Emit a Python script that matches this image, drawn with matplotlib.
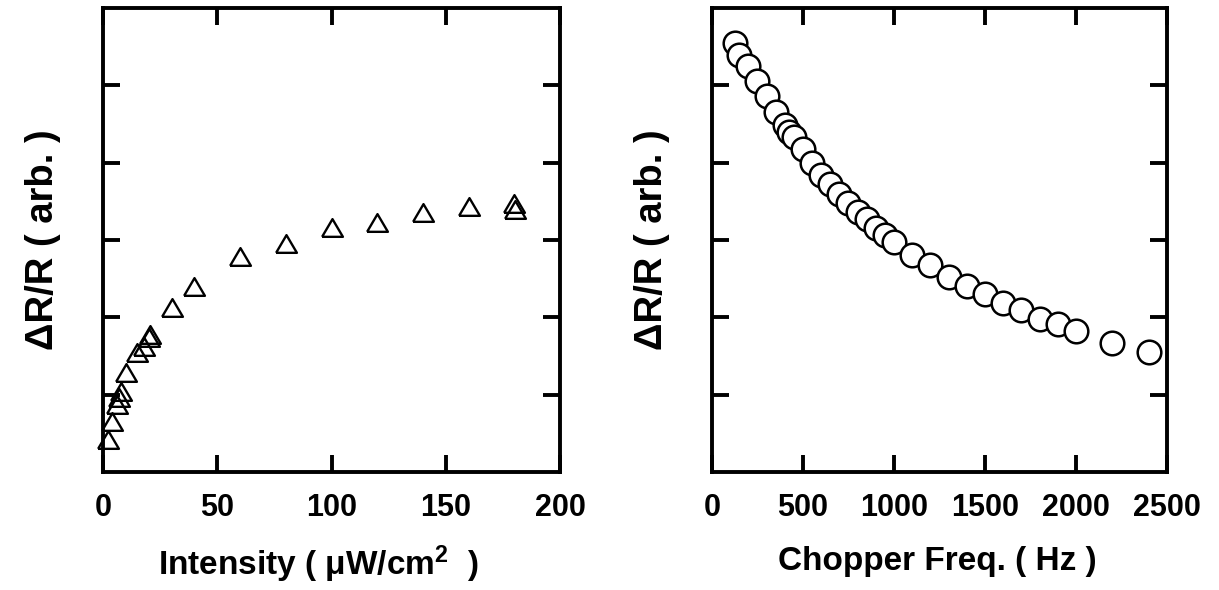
import matplotlib.pyplot as plt

plt.rcParams['font.family'] = ['Liberation Sans', 'DejaVu Sans']
plt.rcParams['font.weight'] = 'bold'
plt.rcParams['axes.labelweight'] = 'bold'
plt.rcParams['mathtext.fontset'] = 'custom'
plt.rcParams['mathtext.rm'] = 'Liberation Sans:bold'
plt.rcParams['mathtext.it'] = 'Liberation Sans:bold'
plt.rcParams['mathtext.default'] = 'rm'

# Intensity dependence (triangles)
intensity = [2, 4, 6, 7, 8, 10, 15, 18, 20, 20.5, 30, 40, 60, 80, 100, 120, 140, 160, 180, 180.5]
dr_intensity = [0.41, 0.65, 0.87, 0.96, 1.03, 1.28, 1.54, 1.62, 1.73, 1.77, 2.12, 2.39,
                2.78, 2.95, 3.16, 3.22, 3.35, 3.43, 3.47, 3.39]

# Chopper frequency dependence (circles)
freq = [125, 150, 200, 250, 300, 350, 400, 425, 450, 500, 550, 600, 650, 700, 750, 800,
        850, 900, 950, 1000, 1100, 1200, 1300, 1400, 1500, 1600, 1700, 1800, 1900, 2000,
        2200, 2400]
dr_freq = [5.55, 5.39, 5.25, 5.05, 4.86, 4.66, 4.49, 4.40, 4.33, 4.18, 4.00, 3.84, 3.73,
           3.60, 3.48, 3.36, 3.27, 3.16, 3.06, 2.98, 2.81, 2.68, 2.52, 2.41, 2.30, 2.19,
           2.09, 1.98, 1.91, 1.82, 1.67, 1.55]

fig = plt.figure(figsize=(12.19, 5.90), dpi=100)
ax1 = fig.add_axes([103 / 1219, 118 / 590, 457 / 1219, 464 / 590])
ax2 = fig.add_axes([712 / 1219, 118 / 590, 455 / 1219, 464 / 590])

tri = [(-1, -0.8), (1, -0.8), (0, 0.9), (-1, -0.8)]
ax1.plot(intensity, dr_intensity, linestyle='none', marker=tri, markersize=15,
         markerfacecolor='none', markeredgecolor='black', markeredgewidth=1.7, clip_on=False)
ax2.plot(freq, dr_freq, linestyle='none', marker='o', markersize=17,
         markerfacecolor='white', markeredgecolor='black', markeredgewidth=1.8, clip_on=False)

ax1.set_xlim(0, 200)
ax1.set_xticks([0, 50, 100, 150, 200])
ax2.set_xlim(0, 2500)
ax2.set_xticks([0, 500, 1000, 1500, 2000, 2500])

for ax in (ax1, ax2):
    ax.set_ylim(0, 6)
    ax.set_yticks([1, 2, 3, 4, 5])
    ax.set_yticklabels([])
    ax.tick_params(direction='in', top=True, right=True, length=12, width=2.8,
                   labelsize=22, pad=15)
    for s in ax.spines.values():
        s.set_linewidth(2.8)
    ax.set_ylabel('ΔR/R ( arb. )', fontsize=27.5, labelpad=15)

ax1.set_xlabel('Intensity ( μW/cm$^2$  )', fontsize=24, labelpad=15)
ax2.set_xlabel('Chopper Freq. ( Hz )', fontsize=24, labelpad=17)
ax1.xaxis.label.set_x(0.47)
ax2.xaxis.label.set_x(0.495)

fig.savefig('out.png', dpi=100)
